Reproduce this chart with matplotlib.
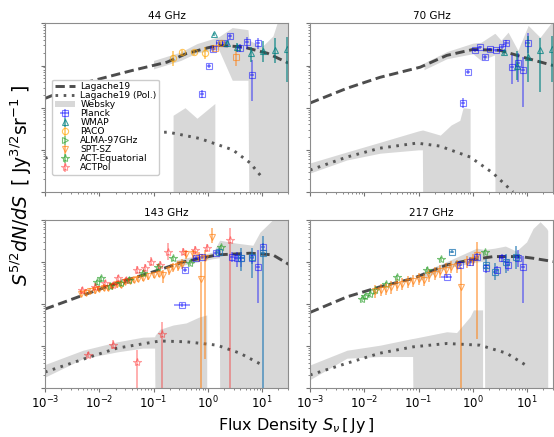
import numpy as np
import matplotlib
matplotlib.use("Agg")
import matplotlib.pyplot as plt

# all values stored as log10 (x in Jy, y in Jy^1.5/sr); errors in dex
# ---------------- 44 GHz ----------------
lag44_lx = [-3.0, -2.3, -1.4, -0.75, -0.4, 0.0, 0.2, 0.65, 1.1, 1.48]
lag44_ly = [0.22, 0.58, 0.88, 1.08, 1.28, 1.42, 1.48, 1.44, 1.29, 1.06]
pol44_lx = [-3.0, -2.0, -1.2, -0.73, -0.15, 0.46, 0.78, 1.01]
pol44_ly = [-1.2, -0.8, -0.6, -0.58, -0.73, -1.0, -1.31, -1.67]
web44_lx = [-1.0, -0.5, -0.2, 0.2, 0.45, 0.74, 0.76, 1.0, 1.2, 1.3, 1.48]
web44_hi = [1.12, 1.32, 1.52, 1.68, 1.90, 1.85, 1.6, 1.45, 1.7, 2.1, 2.1]
web44_lo = [0.92, 1.12, 1.3, 1.38, 0.65, 0.65, -3, -3, -3, -3, -3]
webp44_lx = [-0.64, -0.42, -0.2, 0.13]
webp44_hi = [-0.18, 0.0, -0.25, 0.1]
webp44_lo = [-3, -3, -3, -3]

planck44_lx = [-0.11, 0.02, 0.09, 0.20, 0.31, 0.41, 0.59, 0.72, 0.81, 0.92]
planck44_ly = [0.32, 0.98, 1.38, 1.53, 1.53, 1.69, 1.41, 1.55, 0.77, 1.53]
planck44_elo = [0.1, 0.05, 0.05, 0.05, 0.05, 0.05, 0.1, 0.15, 0.6, 0.15]
planck44_ehi = [0.1, 0.05, 0.05, 0.05, 0.05, 0.05, 0.1, 0.12, 0.35, 0.12]
planckb44_lx = [0.13, 0.52]
planckb44_ly = [1.41, 1.20]
planckb44_e = [0.05, 0.2]
wmap44_lx = [0.11, 0.35, 0.54, 0.79, 1.01, 1.24, 1.46]
wmap44_ly = [1.74, 1.53, 1.43, 1.29, 1.34, 1.36, 1.38]
wmap44_elo = [0.03, 0.05, 0.12, 0.2, 0.25, 0.3, 0.78]
wmap44_ehi = [0.03, 0.05, 0.1, 0.15, 0.25, 0.3, 0.3]
paco44_lx = [-0.64, -0.48, -0.26, -0.05, 0.24]
paco44_ly = [1.17, 1.31, 1.31, 1.29, 1.53]
paco44_e = [0.18, 0.06, 0.05, 0.14, 0.05]

# ---------------- 70 GHz ----------------
lag70_lx = [-3.0, -2.32, -1.71, -0.97, -0.48, 0.0, 0.5, 1.0, 1.48]
lag70_ly = [0.11, 0.46, 0.72, 0.96, 1.24, 1.38, 1.36, 1.17, 1.0]
pol70_lx = [-3.0, -2.32, -1.71, -1.03, -0.61, -0.05, 0.37, 0.74]
pol70_ly = [-1.48, -1.17, -0.96, -0.84, -0.91, -1.17, -1.55, -2.0]
web70_lx = [-0.9, -0.48, 0.0, 0.15, 0.40, 0.41, 0.52, 0.65, 0.83, 1.02, 1.24, 1.48]
web70_hi = [1.06, 1.33, 1.53, 1.55, 1.76, 1.76, 1.6, 1.79, 1.36, 1.95, 1.67, 2.07]
web70_lo = [0.9, 1.16, 1.28, 1.12, 1.25, -3, -3, -3, -3, -3, -3, -3]
webp70_lx = [-3.0, -2.32, -1.71, -1.0, -0.93, -0.92, -0.6, -0.4, -0.24, -0.18, -0.05]
webp70_hi = [-1.31, -1.05, -0.82, -0.55, -0.53, -0.53, -0.65, -0.41, -0.3, 0.0, -0.02]
webp70_lo = [-1.55, -1.24, -1.08, -1.0, -1.0, -3, -3, -3, -3, -3, -3]

planck70_lx = [-0.18, -0.09, 0.04, 0.13, 0.22, 0.31, 0.42, 0.53, 0.62, 0.72, 0.83, 0.92, 1.01]
planck70_ly = [0.11, 0.84, 1.36, 1.43, 1.19, 1.38, 1.36, 1.43, 1.53, 0.96, 1.05, 0.89, 1.53]
planck70_elo = [0.12, 0.05, 0.04, 0.04, 0.05, 0.04, 0.04, 0.05, 0.07, 0.4, 0.45, 0.87, 0.24]
planck70_ehi = [0.12, 0.05, 0.04, 0.04, 0.05, 0.04, 0.04, 0.05, 0.07, 0.3, 0.25, 0.31, 0.24]
wmap70_lx = [0.57, 0.81, 1.01, 1.24, 1.46]
wmap70_ly = [1.31, 1.0, 1.2, 1.36, 1.4]
wmap70_elo = [0.05, 0.35, 0.6, 1.0, 0.8]
wmap70_ehi = [0.05, 0.35, 0.5, 0.3, 0.3]

# ---------------- 143 GHz ----------------
lag143_lx = [-3.0, -2.30, -1.67, -1.07, -0.46, 0.17, 0.78, 1.2, 1.51]
lag143_ly = [-0.12, 0.21, 0.50, 0.74, 1.0, 1.17, 1.21, 1.17, 0.93]
pol143_lx = [-3.0, -2.17, -1.67, -0.88, -0.39, 0.17, 0.59, 1.0]
pol143_ly = [-1.62, -1.26, -1.05, -0.88, -0.9, -0.98, -1.17, -1.45]
web143_lx = [-0.6, -0.2, 0.1, 0.21, 0.22, 0.53, 0.83, 0.96, 1.27, 1.48]
web143_hi = [1.05, 1.15, 1.24, 1.5, 1.52, 1.45, 1.40, 1.71, 2.1, 2.1]
web143_lo = [0.88, 1.0, 1.08, 1.1, -3, -3, -3, -3, -3, -3]
webp143_lx = [-3.0, -2.3, -1.67, -1.2, -0.98, -0.97, -0.88, -0.64, -0.4, -0.16, -0.02]
webp143_hi = [-1.44, -1.1, -0.9, -0.79, -0.78, -0.74, -0.6, -0.5, -0.45, -0.31, -0.26]
webp143_lo = [-1.74, -1.3, -1.14, -1.05, -1.05, -3, -3, -3, -3, -3, -3]

spt143_lx = [-2.34, -2.25, -2.17, -2.08, -2.0, -1.92, -1.84, -1.76, -1.68, -1.6, -1.52,
             -1.44, -1.36, -1.28, -1.2, -1.1, -1.0, -0.9, -0.82, -0.72, -0.64, -0.55,
             -0.47, -0.40, -0.28, -0.16, -0.13, -0.05, 0.07]
spt143_ly = [0.25, 0.27, 0.31, 0.33, 0.36, 0.39, 0.38, 0.43, 0.47, 0.46, 0.53,
             0.55, 0.58, 0.60, 0.63, 0.66, 0.69, 0.72, 0.69, 0.80, 0.87, 0.90,
             0.95, 1.18, 1.19, 1.13, 0.59, 1.09, 1.60]
spt143_elo = [0.08] * 18 + [0.2, 0.1, 0.1, 0.12, 0.12, 0.1, 0.1, 0.12, 4.0, 2.4, 0.15]
spt143_ehi = [0.08] * 18 + [0.12, 0.1, 0.1, 0.12, 0.12, 0.1, 0.1, 0.12, 0.42, 0.2, 0.2]
actpol143_lx = [-2.32, -2.20, -2.08, -1.90, -1.74, -1.74, -1.65, -1.50, -1.31, -1.31, -1.16,
                -1.04, -0.88, -0.85, -0.73, -0.45, -0.24, -0.02, 0.41]
actpol143_ly = [0.33, -1.21, 0.41, 0.49, 0.45, -0.98, 0.61, 0.57, 0.81, -1.37, 0.85,
                1.01, 0.93, -0.71, 1.25, 1.25, 1.29, 1.33, 1.52]
actpol143_elo = [0.08, 0.06, 0.08, 0.08, 0.08, 0.1, 0.08, 0.08, 0.1, 4.0, 0.1,
                 0.1, 0.1, 4.0, 0.2, 0.08, 0.1, 0.1, 4.0]
actpol143_ehi = [0.08, 0.06, 0.08, 0.08, 0.08, 0.12, 0.08, 0.08, 0.1, 0.27, 0.1,
                 0.1, 0.1, 0.28, 0.2, 0.08, 0.1, 0.1, 0.28]
acteq143_lx = [-2.05, -1.96, -1.80, -1.60, -1.45, -1.20, -0.91, -0.64, -0.33, 0.25]
acteq143_ly = [0.52, 0.61, 0.43, 0.50, 0.58, 0.75, 0.89, 1.09, 0.98, 1.35]
acteq143_e = [0.06] * 10
planck143_lx = [-0.48, -0.42, -0.21, -0.11, 0.16, 0.44, 0.53, 0.62, 0.81, 0.93, 1.02]
planck143_ly = [-0.02, 0.81, 1.09, 1.13, 1.21, 1.13, 1.09, 1.09, 1.10, 0.89, 1.36]
planck143_elo = [0.05, 0.05, 0.05, 0.05, 0.05, 0.12, 0.2, 0.2, 0.15, 0.87, 0.1]
planck143_ehi = [0.05, 0.05, 0.05, 0.05, 0.05, 0.12, 0.15, 0.15, 0.12, 0.4, 0.1]
planck143_xe = [0.15, 0.04, 0.04, 0.04, 0.04, 0.04, 0.04, 0.04, 0.04, 0.04, 0.04]
planckb143_lx = [0.2, 0.62, 0.81, 1.02]
planckb143_ly = [1.25, 1.09, 1.13, 1.21]
planckb143_elo = [0.1, 0.3, 0.5, 4.0]
planckb143_ehi = [0.08, 0.25, 0.2, 0.4]

# ---------------- 217 GHz ----------------
lag217_lx = [-3.0, -2.32, -1.71, -1.10, -0.48, -0.05, 0.38, 0.87, 1.11, 1.49]
lag217_ly = [-0.2, 0.17, 0.41, 0.61, 0.93, 1.05, 1.13, 1.13, 1.09, 1.01]
pol217_lx = [-3.0, -2.32, -1.71, -1.10, -0.48, 0.13, 0.62, 1.02]
pol217_ly = [-1.69, -1.41, -1.17, -1.02, -0.94, -0.98, -1.17, -1.49]
web217_lx = [-1.0, -0.5, 0.07, 0.21, 0.22, 0.4, 0.6, 0.8, 0.99, 1.11, 1.24, 1.36, 1.38]
web217_hi = [0.72, 1.0, 1.33, 1.3, 1.3, 1.33, 1.38, 1.26, 1.48, 1.8, 1.96, 1.8, 1.75]
web217_lo = [0.55, 0.85, 1.0, 1.02, -3, -3, -3, -3, -3, -3, -3, -3, -3]
webp217_lx = [-3.0, -2.32, -1.71, -1.11, -1.10, -0.48, -0.3, -0.05, 0.01, 0.18]
webp217_hi = [-1.45, -1.1, -0.98, -0.82, -0.82, -0.66, -0.68, -0.30, -0.14, -0.14]
webp217_lo = [-1.8, -1.29, -1.25, -1.25, -3, -3, -3, -3, -3, -3]

spt217_lx = [-1.80, -1.70, -1.60, -1.50, -1.40, -1.30, -1.20, -1.10, -1.00, -0.90,
             -0.80, -0.70, -0.60, -0.50, -0.40, -0.30, -0.21, -0.10, 0.0, 0.07]
spt217_ly = [0.30, 0.33, 0.36, 0.40, 0.45, 0.48, 0.52, 0.55, 0.60, 0.57,
             0.68, 0.72, 0.78, 0.82, 0.88, 0.90, 0.41, 1.00, 1.05, 1.17]
spt217_elo = [0.15] * 16 + [4.0, 0.15, 0.15, 2.0]
spt217_ehi = [0.15] * 16 + [0.48, 0.15, 0.15, 0.3]
acteq217_lx = [-2.05, -1.98, -1.9, -1.8, -1.6, -1.4, -0.85, -0.58, 0.22]
acteq217_ly = [0.12, 0.18, 0.25, 0.33, 0.47, 0.64, 0.82, 1.08, 1.24]
acteq217_e = [0.05] * 9
planck217_lx = [-0.48, -0.24, -0.05, 0.07, 0.24, 0.44, 0.53, 0.65, 0.84, 0.93]
planck217_ly = [0.65, 0.93, 1.01, 1.13, 0.85, 0.81, 1.09, 0.93, 1.09, 0.89]
planck217_elo = [0.04, 0.1, 0.1, 0.08, 0.1, 0.1, 0.1, 0.15, 0.2, 0.87]
planck217_ehi = [0.04, 0.1, 0.1, 0.08, 0.1, 0.1, 0.1, 0.15, 0.2, 0.25]
planck217_xe = [0.1] + [0.04] * 9
planckb217_lx = [-0.39, 0.25, 0.41, 0.62, 0.80]
planckb217_ly = [1.25, 0.93, 0.77, 1.0, 1.13]
planckb217_elo = [0.03, 0.15, 0.2, 0.25, 0.3]
planckb217_ehi = [0.03, 0.15, 0.2, 0.2, 0.25]

# styles
sty = {
    'Planck': dict(color='blue', marker='s', alpha=0.5),
    'PlanckB': dict(color='C0', marker='s', alpha=0.75),
    'PlanckO': dict(color='C1', marker='s', alpha=0.6),
    'WMAP': dict(color='teal', marker='^', alpha=0.75),
    'PACO': dict(color='orange', marker='o', alpha=0.65),
    'ALMA-97GHz': dict(color='C2', marker='>', alpha=0.65),
    'SPT-SZ': dict(color='C1', marker='v', alpha=0.65),
    'ACT-Equatorial': dict(color='C2', marker='*', alpha=0.65),
    'ACTPol': dict(color='red', marker='*', alpha=0.4),
}


def pts(ax, lx, ly, elo, ehi=None, xe=None, key='Planck', label=None):
    lx = np.asarray(lx, float)
    ly = np.asarray(ly, float)
    elo = np.asarray(elo, float)
    ehi = elo if ehi is None else np.asarray(ehi, float)
    x = 10.0 ** lx
    y = 10.0 ** ly
    yerr = [y - 10.0 ** (ly - elo), 10.0 ** (ly + ehi) - y]
    xerr = None
    if xe is not None:
        xe = np.asarray(xe, float)
        xerr = [x - 10.0 ** (lx - xe), 10.0 ** (lx + xe) - x]
    s = sty[key]
    ms = 6 if s['marker'] == '*' else 4.5
    return ax.errorbar(x, y, yerr=yerr, xerr=xerr, fmt=s['marker'], color=s['color'],
                       alpha=s['alpha'], mfc='none', ms=ms, mew=0.8, elinewidth=1.1,
                       capsize=0, label=label)


def band(ax, lx, lo, hi):
    lx, lo, hi = (np.asarray(a, float) for a in (lx, lo, hi))
    return ax.fill_between(10.0 ** lx, 10.0 ** lo, 10.0 ** hi,
                           color='gray', alpha=0.3, lw=0)


def curves(ax, llx, lly, plx, ply):
    l1, = ax.plot(10.0 ** np.asarray(llx), 10.0 ** np.asarray(lly), ls=(0, (3.2, 1.6)),
                  color='#3a3a3a', lw=2.1, alpha=0.9, label='Lagache19')
    l2, = ax.plot(10.0 ** np.asarray(plx), 10.0 ** np.asarray(ply), ls=(0, (0.9, 1.9)),
                  color='#4a4a4a', lw=2.1, alpha=0.9, label='Lagache19 (Pol.)')
    return l1, l2


fig = plt.figure(figsize=(5.54, 4.37), dpi=100)
W, H = 0.4386, 0.3860
ax44 = fig.add_axes([0.0812, 0.5606, W, H])
ax70 = fig.add_axes([0.5596, 0.5606, W, H])
ax143 = fig.add_axes([0.0812, 0.1121, W, 0.3844])
ax217 = fig.add_axes([0.5596, 0.1121, W, 0.3844])

# 44 GHz
hw = band(ax44, web44_lx, web44_lo, web44_hi)
band(ax44, webp44_lx, webp44_lo, webp44_hi)
hl1, hl2 = curves(ax44, lag44_lx, lag44_ly, pol44_lx, pol44_ly)
hp = pts(ax44, planck44_lx, planck44_ly, planck44_elo, planck44_ehi, xe=[0.04] * 10, key='Planck', label='Planck')
pts(ax44, planckb44_lx, planckb44_ly, planckb44_e, key='PlanckO')
hwm = pts(ax44, wmap44_lx, wmap44_ly, wmap44_elo, wmap44_ehi, key='WMAP', label='WMAP')
hpa = pts(ax44, paco44_lx, paco44_ly, paco44_e, key='PACO', label='PACO')
hal = pts(ax44, [], [], [], key='ALMA-97GHz', label='ALMA-97GHz')
hsp = pts(ax44, [], [], [], key='SPT-SZ', label='SPT-SZ')
hae = pts(ax44, [], [], [], key='ACT-Equatorial', label='ACT-Equatorial')
hap = pts(ax44, [], [], [], key='ACTPol', label='ACTPol')

# 70 GHz
band(ax70, web70_lx, web70_lo, web70_hi)
band(ax70, webp70_lx, webp70_lo, webp70_hi)
curves(ax70, lag70_lx, lag70_ly, pol70_lx, pol70_ly)
pts(ax70, planck70_lx, planck70_ly, planck70_elo, planck70_ehi, xe=[0.04] * 13, key='Planck')
pts(ax70, wmap70_lx, wmap70_ly, wmap70_elo, wmap70_ehi, key='WMAP')

# 143 GHz
band(ax143, web143_lx, web143_lo, web143_hi)
band(ax143, webp143_lx, webp143_lo, webp143_hi)
curves(ax143, lag143_lx, lag143_ly, pol143_lx, pol143_ly)
pts(ax143, spt143_lx, spt143_ly, spt143_elo, spt143_ehi, key='SPT-SZ')
pts(ax143, acteq143_lx, acteq143_ly, acteq143_e, key='ACT-Equatorial')
pts(ax143, actpol143_lx, actpol143_ly, actpol143_elo, actpol143_ehi, key='ACTPol')
pts(ax143, planck143_lx, planck143_ly, planck143_elo, planck143_ehi, xe=planck143_xe, key='Planck')
pts(ax143, planckb143_lx, planckb143_ly, planckb143_elo, planckb143_ehi, xe=[0.04] * 4, key='PlanckB')

# 217 GHz
band(ax217, web217_lx, web217_lo, web217_hi)
band(ax217, webp217_lx, webp217_lo, webp217_hi)
curves(ax217, lag217_lx, lag217_ly, pol217_lx, pol217_ly)
pts(ax217, acteq217_lx, acteq217_ly, acteq217_e, key='ACT-Equatorial')
pts(ax217, spt217_lx, spt217_ly, spt217_elo, spt217_ehi, key='SPT-SZ')
pts(ax217, planck217_lx, planck217_ly, planck217_elo, planck217_ehi, xe=planck217_xe, key='Planck')
pts(ax217, planckb217_lx, planckb217_ly, planckb217_elo, planckb217_ehi, xe=[0.04] * 5, key='PlanckB')

for ax, title in [(ax44, '44 GHz'), (ax70, '70 GHz'), (ax143, '143 GHz'), (ax217, '217 GHz')]:
    ax.set_xscale('log')
    ax.set_yscale('log')
    ax.set_xlim(1e-3, 30)
    ax.set_ylim(1e-2, 1e2)
    ax.set_title(title, fontsize=7.5, pad=3)
    ax.tick_params(which='both', labelleft=False, color='0.45', direction='out')
    ax.tick_params(which='major', length=3)
    ax.tick_params(which='minor', length=1.5)
    ax.tick_params(axis='x', labelsize=8.5, pad=2)
    for sp in ax.spines.values():
        sp.set_color('0.55')
    if ax in (ax44, ax70):
        ax.tick_params(axis='x', labelbottom=False)

ax44.legend([hl1, hl2, hw, hp, hwm, hpa, hal, hsp, hae, hap],
            ['Lagache19', 'Lagache19 (Pol.)', 'Websky', 'Planck', 'WMAP', 'PACO',
             'ALMA-97GHz', 'SPT-SZ', 'ACT-Equatorial', 'ACTPol'],
            loc='lower left', bbox_to_anchor=(0.028, 0.1), borderaxespad=0,
            fontsize=6.6, labelspacing=0.0, handlelength=2.2, handletextpad=0.6,
            borderpad=0.3, framealpha=1, edgecolor='0.8')

fig.text(0.535, 0.027, r'Flux Density $S_\nu\,[\,\mathrm{Jy}\,]$', ha='center', va='center', fontsize=11.5)
fig.text(0.038, 0.577, r'$S^{5/2}dN/dS\;\;[\;\mathrm{Jy}^{3/2}\mathrm{sr}^{-1}\;]$', ha='center',
         va='center', rotation=90, fontsize=13.5)

fig.savefig('out.png', dpi=100)
